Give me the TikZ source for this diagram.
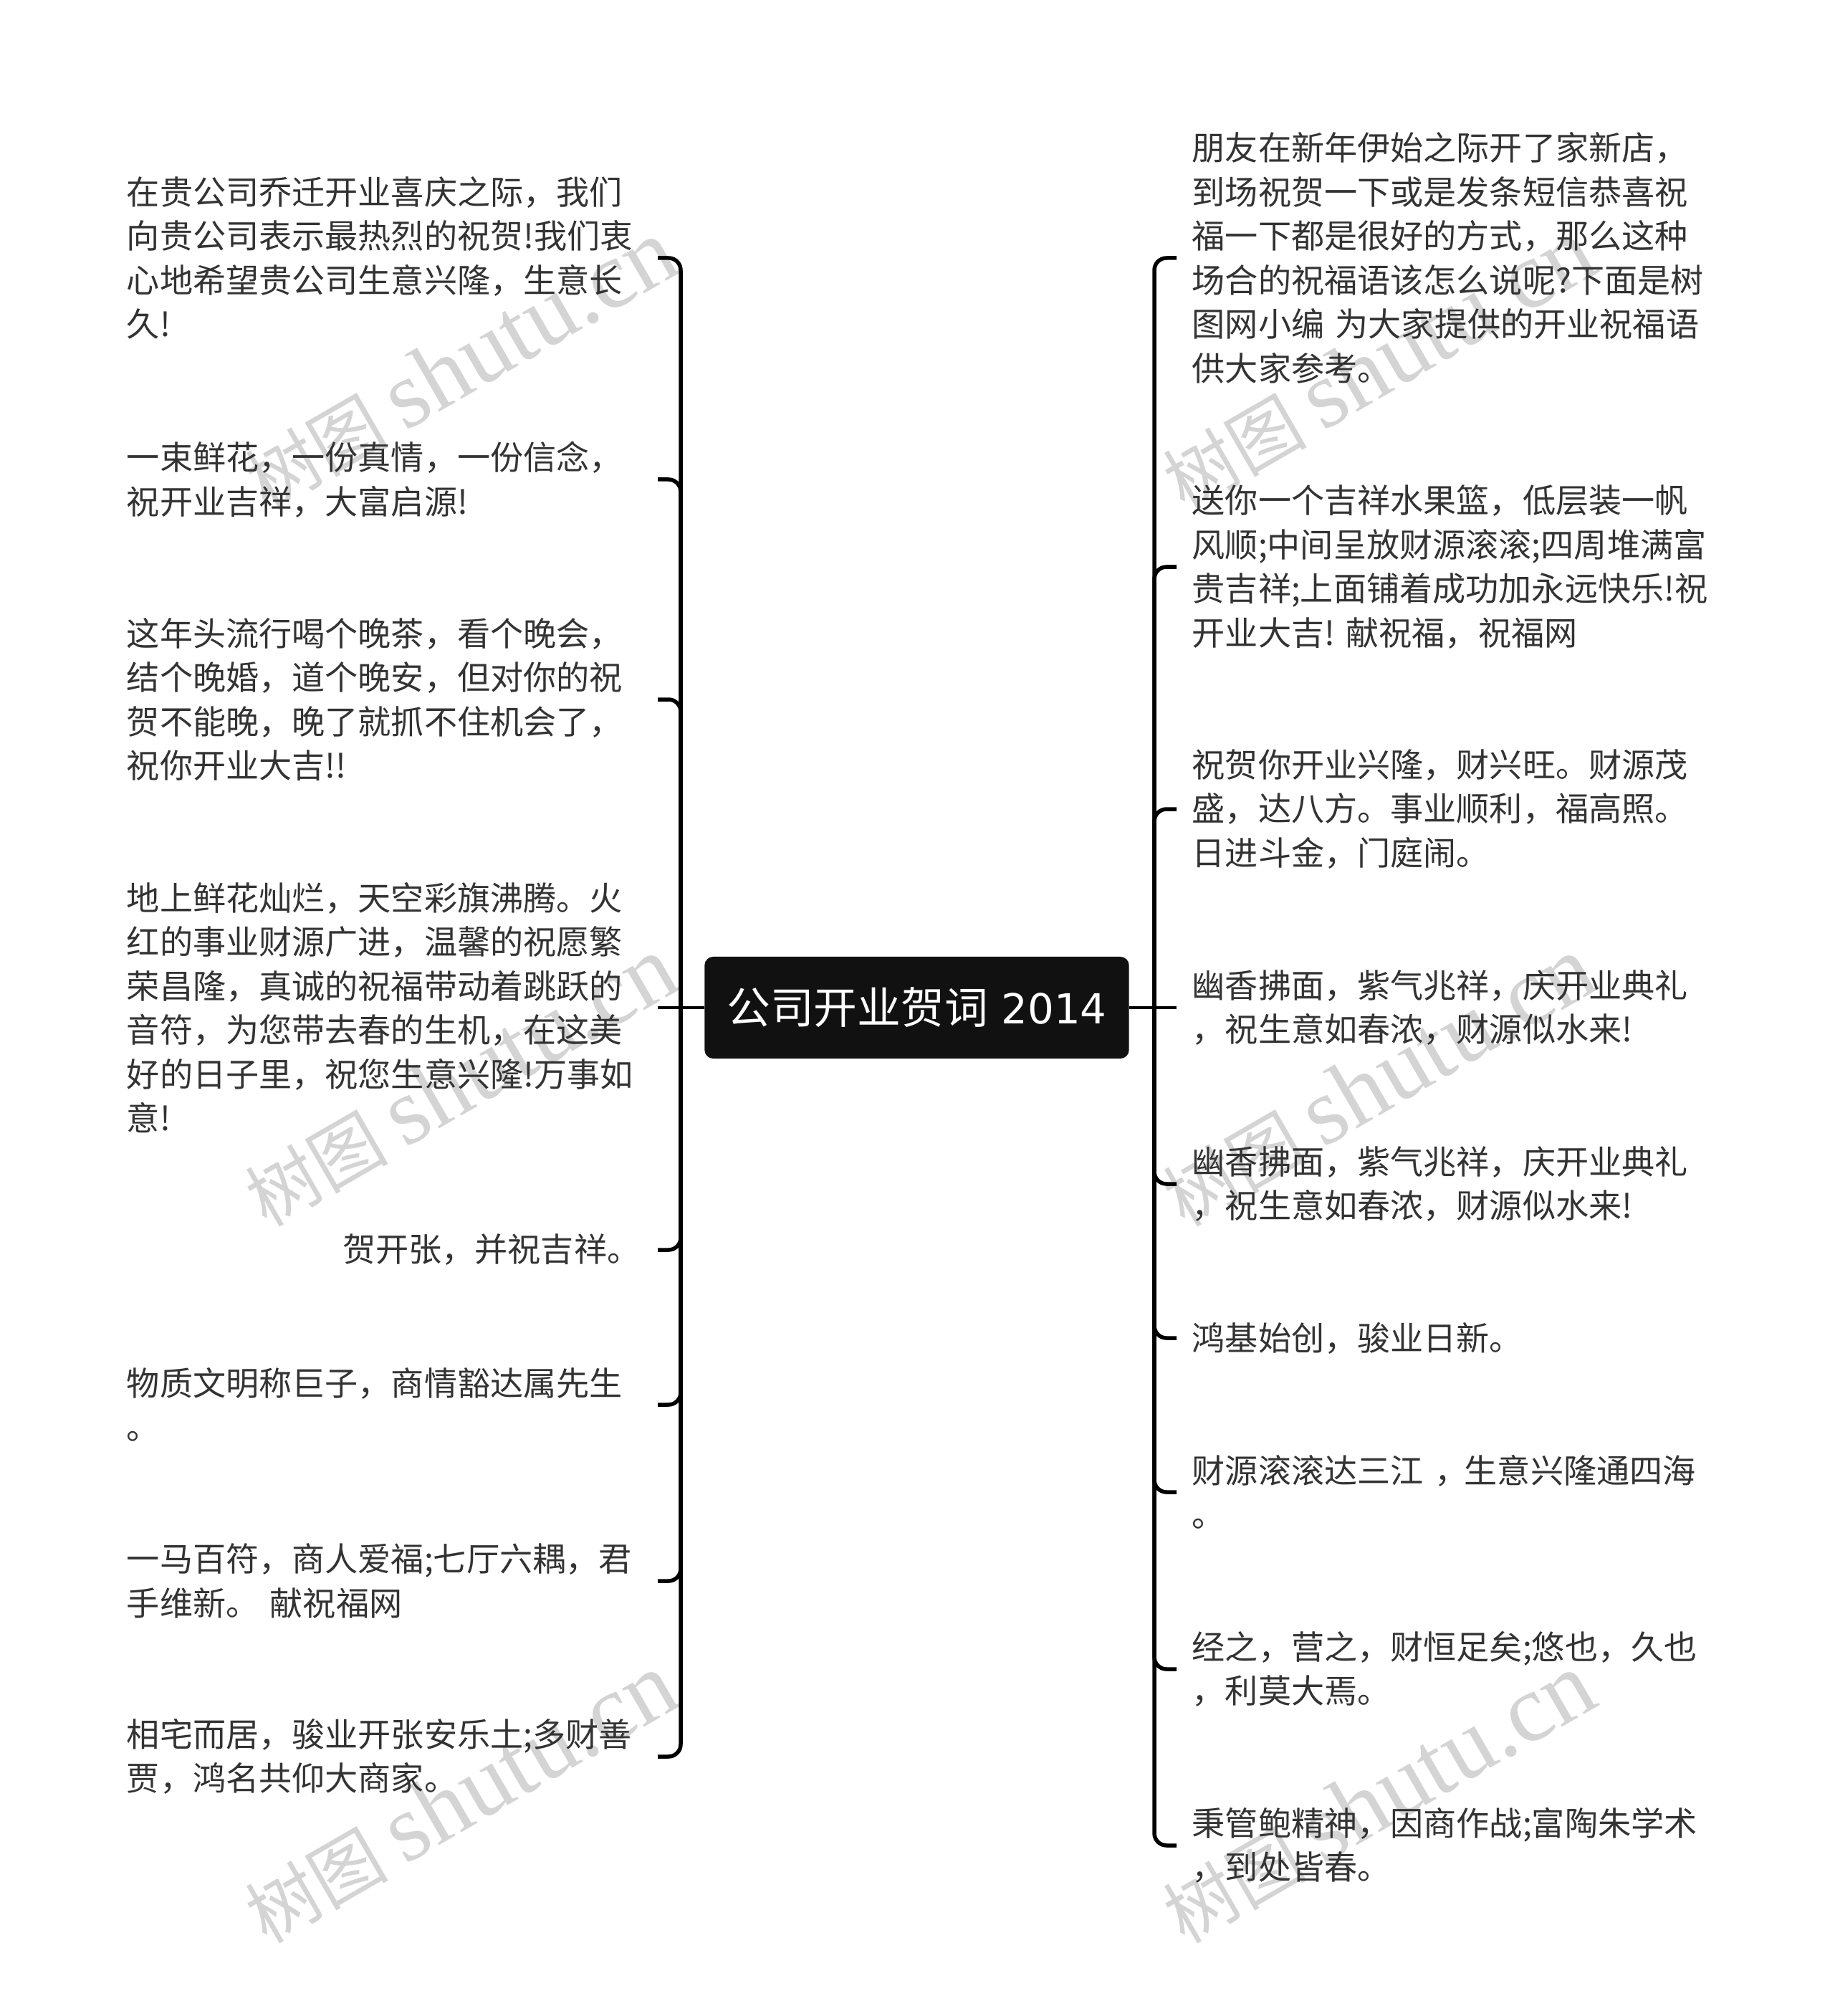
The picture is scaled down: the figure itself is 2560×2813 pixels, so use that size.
\documentclass[tikz,border=0pt]{standalone}
\usepackage{fontspec}
\usepackage{xcolor}
\usepackage{tikz}
\setmainfont{Noto Sans CJK SC}
\newfontfamily\wmserif{Liberation Serif}
\newfontfamily\rootdigits[Scale=0.95]{DejaVu Sans}
\definecolor{wmgray}{HTML}{D4D4D4}
\definecolor{leaftext}{HTML}{333333}
\definecolor{rootfill}{HTML}{111111}
\frenchspacing
\tikzset{
  leaf/.style={text=leaftext, inner xsep=0.21cm, inner ysep=0pt, align=left,
    font=\fontsize{13.12}{17.5}\selectfont\frenchspacing},
  leafl/.style={leaf, text width=7.19cm, anchor=east},
  leafr/.style={leaf, text width=7.7cm, anchor=west},
  rootnode/.style={fill=rootfill, text=white, rounded corners=0.12cm, minimum width=5.92cm,
    minimum height=1.42cm, inner sep=0pt, font=\fontsize{17.3}{20}\selectfont},
  branchline/.style={line width=0.055cm, rounded corners=0.17cm},
  rootline/.style={line width=0.035cm},
  watermark/.style={text=wmgray, rotate=30, inner sep=0pt, font=\fontsize{28.5}{36}\selectfont}
}

\begin{document}
\begin{tikzpicture}[x=0.01cm, y=-0.01cm]
% tutte le misure in pixel del riferimento, y verso il basso
\useasboundingbox (0,0) rectangle (2560,2813);

\foreach \col/\cx in {l/642,r/1923}
  \foreach \row/\cy in {a/509,b/1509,c/2509}
    \node[watermark] (wm\col\row) at (\cx,\cy) {树图 {\wmserif\fontsize{38}{36}\selectfont shutu.cn}};

\coordinate (trunkl) at (950,1406);
\coordinate (trunkr) at (1611,1406);

\node[rootnode] (root) at (1279.5,1406) {公司开业贺词{\rootdigits\ 2014}};

\node[leafl] (nl1) at (918,360) {在贵公司乔迁开业喜庆之际，我们\\向贵公司表示最热烈的祝贺!我们衷\\心地希望贵公司生意兴隆，生意长\\久!};
\node[leafl] (nl2) at (918,669) {一束鲜花，一份真情，一份信念，\\祝开业吉祥，大富启源!};
\node[leafl] (nl3) at (918,976) {这年头流行喝个晚茶，看个晚会，\\结个晚婚，道个晚安，但对你的祝\\贺不能晚，晚了就抓不住机会了，\\祝你开业大吉!!};
\node[leafl] (nl4) at (918,1406) {地上鲜花灿烂，天空彩旗沸腾。火\\红的事业财源广进，温馨的祝愿繁\\荣昌隆，真诚的祝福带动着跳跃的\\音符，为您带去春的生机，在这美\\好的日子里，祝您生意兴隆!万事如\\意!};
\node[leafl, align=right, inner xsep=0.24cm] (nl5) at (918,1744) {贺开张，并祝吉祥。};
\node[leafl] (nl6) at (918,1960) {物质文明称巨子，商情豁达属先生\\。};
\node[leafl] (nl7) at (918,2206) {一马百符，商人爱福;七厅六耦，君\\手维新。 献祝福网};
\node[leafl] (nl8) at (918,2451) {相宅而居，骏业开张安乐土;多财善\\贾，鸿名共仰大商家。};

\node[leafr] (nr1) at (1642,360) {朋友在新年伊始之际开了家新店，\\到场祝贺一下或是发条短信恭喜祝\\福一下都是很好的方式，那么这种\\场合的祝福语该怎么说呢?下面是树\\图网小编 为大家提供的开业祝福语\\供大家参考。};
\node[leafr] (nr2) at (1642,791) {送你一个吉祥水果篮，低层装一帆\\风顺;中间呈放财源滚滚;四周堆满富\\贵吉祥;上面铺着成功加永远快乐!祝\\开业大吉! 献祝福，祝福网};
\node[leafr] (nr3) at (1642,1129) {祝贺你开业兴隆，财兴旺。财源茂\\盛，达八方。事业顺利，福高照。\\日进斗金，门庭闹。};
\node[leafr] (nr4) at (1642,1406) {幽香拂面，紫气兆祥，庆开业典礼\\，祝生意如春浓，财源似水来!};
\node[leafr] (nr5) at (1642,1652) {幽香拂面，紫气兆祥，庆开业典礼\\，祝生意如春浓，财源似水来!};
\node[leafr] (nr6) at (1642,1867) {鸿基始创，骏业日新。};
\node[leafr] (nr7) at (1642,2082) {财源滚滚达三江 ， \kern-.43em 生意兴隆通四海\\。};
\node[leafr] (nr8) at (1642,2329) {经之，营之，财恒足矣;悠也，久也\\，利莫大焉。};
\node[leafr] (nr9) at (1642,2575) {秉管鲍精神，因商作战;富陶朱学术\\，到处皆春。};

\foreach \n in {1,2,3,5,6,7,8}
  \draw[branchline] (trunkl) |- (nl\n.east);
\foreach \n in {1,2,3,5,6,7,8,9}
  \draw[branchline] (trunkr) |- (nr\n.west);

\draw[rootline] (root.west) -- (nl4.east);
\draw[rootline] (root.east) -- (nr4.west);

\end{tikzpicture}
\end{document}
